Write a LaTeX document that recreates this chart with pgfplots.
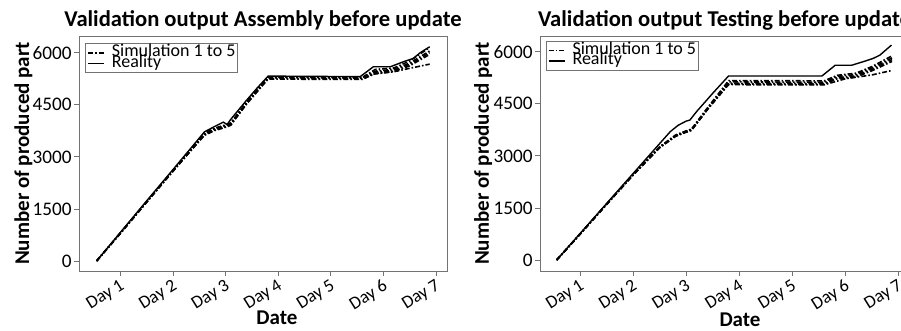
\documentclass[border=0pt]{standalone}
\usepackage{fontspec}
\setmainfont{Carlito}
\usepackage{pgfplots}
\pgfplotsset{compat=1.18}

\pgfplotsset{
  valstyle/.style={
    scale only axis, width=184pt, height=117.5pt,
    axis line style={draw=black!55},
    tick style={draw=black!55, line width=0.4pt},
    tick align=outside, major tick length=2.5pt,
    xtick pos=bottom, ytick pos=left,
    xtick={1,2,3,4,5,6,7},
    xticklabels={Day 1,Day 2,Day 3,Day 4,Day 5,Day 6,Day 7},
    ytick={0,1500,3000,4500,6000},
    /pgf/number format/assume math mode=true,
    /pgf/number format/1000 sep={},
    yticklabel style={font=\fontsize{9.6}{10}\selectfont, inner sep=1pt},
    xticklabel style={font=\fontsize{9}{10}\selectfont, rotate=32, anchor=north east, inner sep=0.5pt, xshift=-0.5pt, yshift=0pt},
    title style={at={(0.5,1)}, anchor=base, yshift=-1.3pt, font=\bfseries\fontsize{11.3}{12}\selectfont},
    xlabel={Date}, ylabel={Number of produced part},
    label style={font=\bfseries\fontsize{10.5}{12}\selectfont},
    legend cell align=left,
    legend style={draw=black!55, fill=white, font=\fontsize{9}{9}\selectfont,
      inner xsep=1pt, inner ysep=1.2pt, row sep=-1.8pt, column sep=3.5pt,
      nodes={inner sep=0pt, text height=5.4pt, text depth=1.6pt},
      anchor=north west},
    legend image code/.code={\draw[#1] (0pt,0pt) -- (8pt,0pt);},
    sim/.style={black, line width=0.8pt, dash pattern=on 2.5pt off 1pt on 0.8pt off 1pt},
    real/.style={black, line width=0.7pt},
  }
}

\begin{document}
\begin{tikzpicture}
\begin{axis}[valstyle, at={(39.5pt,30pt)}, anchor=south west,
  xmin=0.215, xmax=7.21, ymin=-288, ymax=6481,
  title={Validation output Assembly before update},
  ylabel style={at={(axis description cs:-0.151,0.5)}, anchor=center},
  xlabel style={at={(axis description cs:0.538,0)}, anchor=base, yshift=-27pt},
  legend style={at={(0.016,0.97)}},
]
\addplot[sim] coordinates {(0.55,0) (1,800) (1.5,1700) (2,2600) (2.6,3660) (2.8,3810) (3.0,3900) (3.1,3960) (3.4,4560) (3.81,5300) (5.6,5290) (5.85,5520) (6.2,5560) (6.5,5760) (6.88,6150)};
\addlegendentry{Simulation 1 to 5\hspace{8pt}}
\addplot[sim, forget plot] coordinates {(0.55,0) (1,790) (1.5,1690) (2,2580) (2.6,3640) (2.8,3780) (3.0,3870) (3.1,3930) (3.4,4530) (3.81,5280) (5.6,5270) (5.85,5470) (6.2,5520) (6.5,5700) (6.88,6050)};
\addplot[sim, forget plot] coordinates {(0.55,0) (1,805) (1.5,1710) (2,2610) (2.6,3680) (2.8,3830) (3.0,3920) (3.1,3980) (3.4,4580) (3.81,5260) (5.6,5250) (5.85,5440) (6.2,5490) (6.5,5660) (6.88,6000)};
\addplot[sim, forget plot] coordinates {(0.55,0) (1,795) (1.5,1695) (2,2590) (2.6,3620) (2.8,3760) (3.0,3850) (3.1,3910) (3.4,4520) (3.81,5240) (5.6,5230) (5.85,5400) (6.2,5460) (6.5,5620) (6.88,5950)};
\addplot[sim, forget plot] coordinates {(0.55,0) (1,800) (1.5,1705) (2,2600) (2.6,3650) (2.8,3800) (3.0,3890) (3.1,3950) (3.4,4550) (3.81,5300) (5.6,5290) (5.8,5380) (6.2,5450) (6.5,5550) (6.88,5670)};
\addplot[real] coordinates {(0.55,0) (1,820) (1.5,1730) (2,2630) (2.6,3720) (2.8,3880) (2.96,4000) (3.03,3930) (3.1,4080) (3.4,4630) (3.6,4980) (3.81,5326) (5.56,5310) (5.81,5594) (6.13,5594) (6.38,5738) (6.57,5835) (6.7,6000) (6.88,6170)};
\addlegendentry{Reality}
\end{axis}

\begin{axis}[valstyle, at={(270pt,30pt)}, anchor=south west, width=184.5pt,
  xmin=0.246, xmax=7.2, ymin=-317, ymax=6452,
  title={Validation output Testing before update},
  ylabel style={at={(axis description cs:-0.154,0.5)}, anchor=center},
  xlabel style={at={(axis description cs:0.542,0)}, anchor=base, yshift=-28pt},
  legend style={at={(0.015,0.98)}},
]
\addplot[sim] coordinates {(0.56,0) (1,745) (1.5,1610) (2,2460) (2.5,3260) (2.8,3600) (3.0,3720) (3.1,3770) (3.4,4380) (3.8,5166) (5.6,5160) (5.85,5320) (6.2,5380) (6.5,5570) (6.88,5880)};
\addlegendentry{Simulation 1 to 5\hspace{8pt}}
\addplot[sim, forget plot] coordinates {(0.56,0) (1,740) (1.5,1600) (2,2450) (2.5,3240) (2.8,3570) (3.0,3690) (3.1,3740) (3.4,4340) (3.8,5130) (5.6,5120) (5.85,5290) (6.2,5340) (6.5,5530) (6.88,5820)};
\addplot[sim, forget plot] coordinates {(0.56,0) (1,748) (1.5,1605) (2,2455) (2.5,3250) (2.8,3580) (3.0,3700) (3.1,3750) (3.4,4350) (3.8,5090) (5.6,5085) (5.85,5250) (6.2,5300) (6.5,5490) (6.88,5770)};
\addplot[sim, forget plot] coordinates {(0.56,0) (1,742) (1.5,1598) (2,2445) (2.5,3230) (2.8,3560) (3.0,3680) (3.1,3730) (3.4,4330) (3.8,5070) (5.6,5060) (5.85,5220) (6.2,5270) (6.5,5450) (6.88,5720)};
\addplot[sim, forget plot] coordinates {(0.56,0) (1,745) (1.5,1602) (2,2450) (2.5,3245) (2.8,3575) (3.0,3695) (3.1,3745) (3.4,4340) (3.8,5050) (5.6,5045) (6.0,5220) (6.5,5330) (6.88,5460)};
\addplot[real] coordinates {(0.56,0) (1,760) (1.5,1625) (2,2490) (2.7,3696) (2.85,3880) (3.0,4000) (3.07,4030) (3.2,4280) (3.5,4800) (3.8,5301) (5.56,5301) (5.81,5610) (6.12,5610) (6.34,5713) (6.53,5810) (6.65,5900) (6.87,6190)};
\addlegendentry{Reality}
\end{axis}
\pgfresetboundingbox
\path[use as bounding box] (0pt,0pt) rectangle (450.5pt,165.5pt);
\end{tikzpicture}
\end{document}
